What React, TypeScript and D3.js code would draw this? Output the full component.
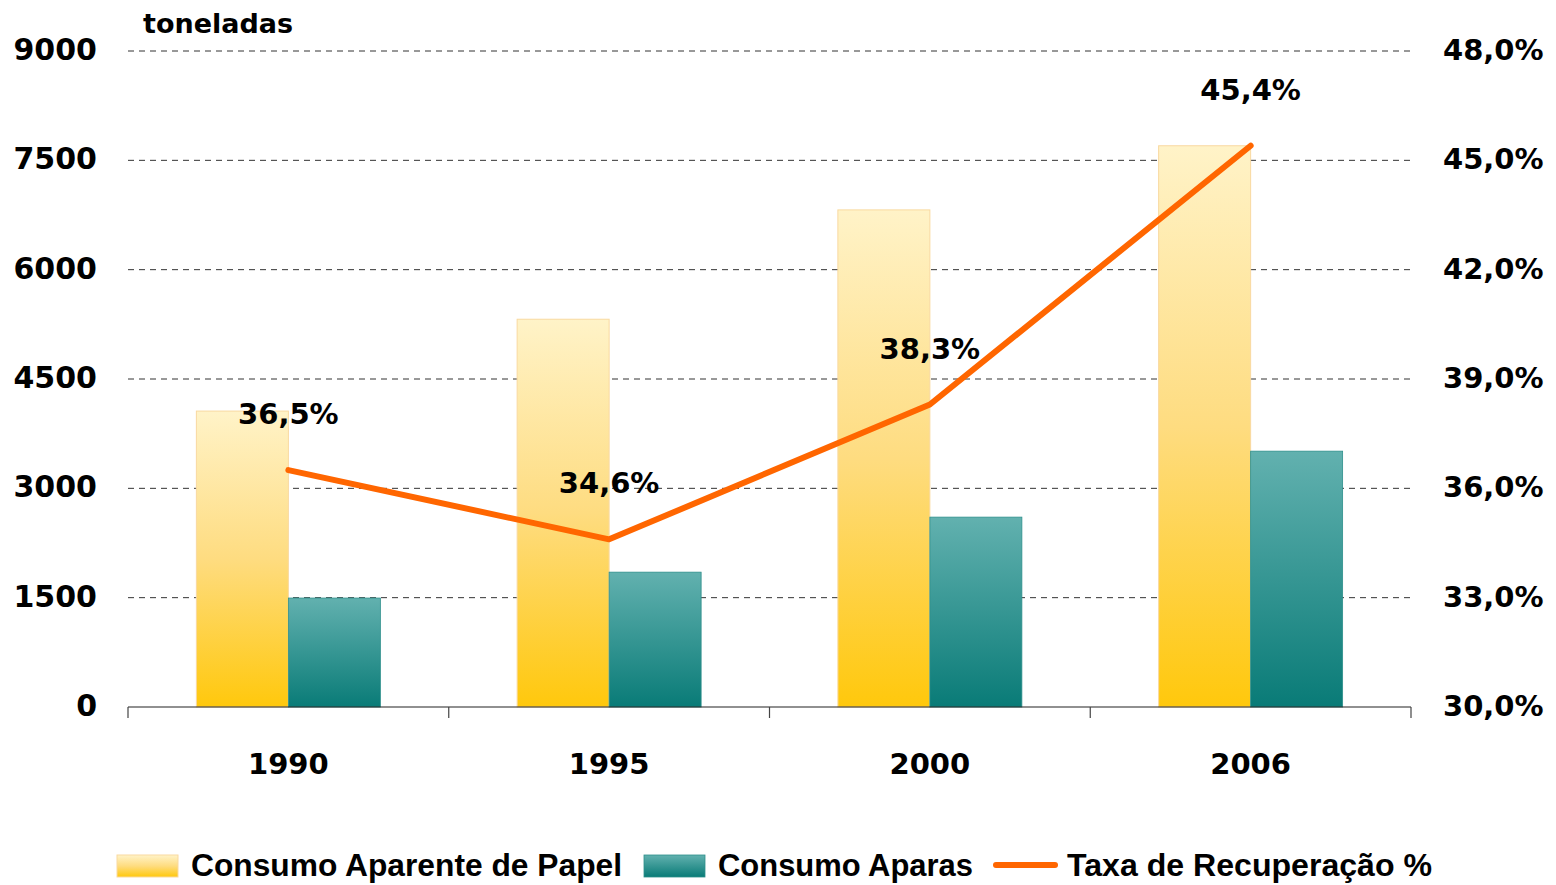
import React from "react";
import * as d3 from "d3";

const categories = ["1990", "1995", "2000", "2006"];
const consumoPapel = [4060, 5320, 6820, 7700];
const consumoAparas = [1495, 1850, 2605, 3510];
const taxaRecuperacao = [36.5, 34.6, 38.3, 45.4];
const leftTicks = [0, 1500, 3000, 4500, 6000, 7500, 9000];
const rightTicks = [30, 33, 36, 39, 42, 45, 48];

const W = 1556;
const H = 885;
const M = { left: 128, right: 1411, top: 51, bottom: 707 };
const FONT = "'DejaVu Sans', Verdana, sans-serif";
const NARROW = "'Liberation Sans', Arial, sans-serif";

export default function App() {
  const x = d3.scaleBand<string>().domain(categories).range([M.left, M.right]);
  const yL = d3.scaleLinear().domain([0, 9000]).range([M.bottom, M.top]);
  const yR = d3.scaleLinear().domain([30, 48]).range([M.bottom, M.top]);
  const barW = 92;
  const cx = (c: string) => (x(c) as number) + x.bandwidth() / 2;
  const line = d3
    .line<number>()
    .x((_, i) => cx(categories[i]))
    .y((d) => yR(d));
  const fmtPct = (v: number) => v.toFixed(1).replace(".", ",") + "%";
  const boundaries = [...categories.map((c) => x(c) as number), M.right];

  return (
    <svg width={W} height={H} style={{ position: "absolute", left: 0, top: 0 }}>
      <defs>
        <linearGradient id="gY" x1="0" y1="0" x2="0" y2="1">
          <stop offset="0" stopColor="#FFF3C8" />
          <stop offset="0.5" stopColor="#FEDC80" />
          <stop offset="1" stopColor="#FFC80C" />
        </linearGradient>
        <linearGradient id="gT" x1="0" y1="0" x2="0" y2="1">
          <stop offset="0" stopColor="#62B1AF" />
          <stop offset="1" stopColor="#097B77" />
        </linearGradient>
      </defs>
      <rect width={W} height={H} fill="#fff" />
      {leftTicks.filter((t) => t > 0).map((t) => (
        <line key={t} x1={M.left} x2={M.right} y1={yL(t)} y2={yL(t)} stroke="#333" strokeWidth={1} strokeDasharray="6,5" />
      ))}
      {categories.map((c, i) => (
        <g key={c}>
          <rect x={cx(c) - barW} y={yL(consumoPapel[i])} width={barW} height={M.bottom - yL(consumoPapel[i])} fill="url(#gY)" stroke="#F9D9A0" strokeWidth={1} />
          <rect x={cx(c)} y={yL(consumoAparas[i])} width={barW} height={M.bottom - yL(consumoAparas[i])} fill="url(#gT)" stroke="#2E8F8B" strokeWidth={0.8} />
        </g>
      ))}
      <line x1={M.left} x2={M.right} y1={M.bottom} y2={M.bottom} stroke="#222" strokeWidth={1.2} />
      {boundaries.map((b, i) => (
        <line key={i} x1={b} x2={b} y1={M.bottom} y2={M.bottom + 11} stroke="#444" strokeWidth={1.2} />
      ))}
      <path d={line(taxaRecuperacao) || ""} fill="none" stroke="#FF6600" strokeWidth={6} strokeLinecap="round" strokeLinejoin="round" />
      {categories.map((c, i) => (
        <text key={c} x={cx(c)} y={yR(taxaRecuperacao[i]) - 46} textAnchor="middle" fontFamily={FONT} fontWeight="bold" fontSize={29} fill="#000">
          {fmtPct(taxaRecuperacao[i])}
        </text>
      ))}
      {leftTicks.map((t) => (
        <text key={t} x={97} y={yL(t) + 9} textAnchor="end" fontFamily={FONT} fontWeight="bold" fontSize={30} fill="#000">
          {t}
        </text>
      ))}
      {rightTicks.map((t) => (
        <text key={t} x={1443} y={yR(t) + 9} textAnchor="start" fontFamily={FONT} fontWeight="bold" fontSize={29} fill="#000">
          {t.toFixed(1).replace(".", ",") + "%"}
        </text>
      ))}
      {categories.map((c) => (
        <text key={c} x={cx(c)} y={774} textAnchor="middle" fontFamily={FONT} fontWeight="bold" fontSize={29} fill="#000">
          {c}
        </text>
      ))}
      <text x={143} y={33} fontFamily={FONT} fontWeight="bold" fontSize={27} fill="#000">toneladas</text>
      <g>
        <rect x={117} y={855} width={61} height={22} fill="url(#gY)" stroke="#F9D9A0" />
        <text x={191} y={876} fontFamily={NARROW} fontWeight="bold" fontSize={32} fill="#000" textLength={431} lengthAdjust="spacingAndGlyphs">Consumo Aparente de Papel</text>
        <rect x={644} y={855} width={61} height={22} fill="url(#gT)" stroke="#2E8F8B" strokeWidth={0.8} />
        <text x={718} y={876} fontFamily={NARROW} fontWeight="bold" fontSize={32} fill="#000" textLength={255} lengthAdjust="spacingAndGlyphs">Consumo Aparas</text>
        <line x1={996} x2={1055} y1={865} y2={865} stroke="#FF6600" strokeWidth={6} strokeLinecap="round" />
        <text x={1067} y={876} fontFamily={NARROW} fontWeight="bold" fontSize={32} fill="#000" textLength={365} lengthAdjust="spacingAndGlyphs">Taxa de Recuperação %</text>
      </g>
    </svg>
  );
}
